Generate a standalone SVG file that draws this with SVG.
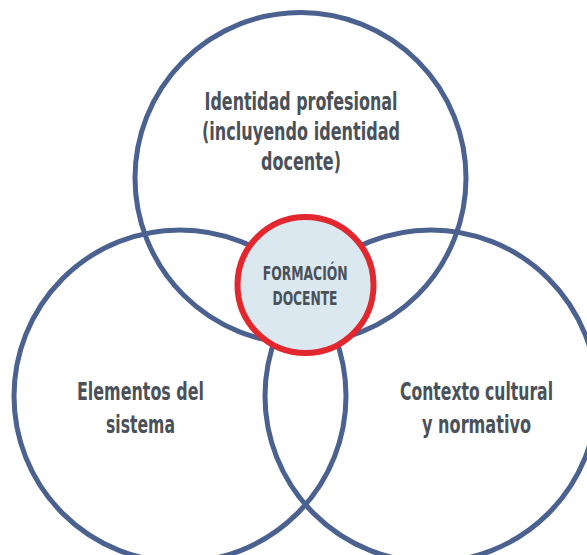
<svg xmlns="http://www.w3.org/2000/svg" width="587" height="555" viewBox="0 0 587 555">
  <style>
    .ring { fill: none; stroke: #4b6190; stroke-width: 5; }
    .core { fill: #dbe8f0; stroke: #e3272f; stroke-width: 6; }
    .label { font-family: "Liberation Sans Narrow", "DejaVu Sans Condensed", "Roboto", sans-serif; font-weight: bold; fill: #4a5159; text-anchor: middle; }
    .big { font-size: 25px; }
    .small { font-size: 19px; }
  </style>
  <rect width="587" height="555" fill="#ffffff"/>

  <!-- Top set: professional identity -->
  <g id="identidad">
    <circle class="ring" cx="300.5" cy="178" r="165.5"/>
    <text class="label big" x="301" y="110" textLength="193" lengthAdjust="spacingAndGlyphs">Identidad profesional</text>
    <text class="label big" x="301" y="140" textLength="198" lengthAdjust="spacingAndGlyphs">(incluyendo identidad</text>
    <text class="label big" x="301" y="170" textLength="80" lengthAdjust="spacingAndGlyphs">docente)</text>
  </g>

  <!-- Lower-left set: system elements -->
  <g id="elementos">
    <circle class="ring" cx="180" cy="396" r="166"/>
    <text class="label big" x="140.5" y="400" textLength="127" lengthAdjust="spacingAndGlyphs">Elementos del</text>
    <text class="label big" x="140.5" y="433" textLength="69" lengthAdjust="spacingAndGlyphs">sistema</text>
  </g>

  <!-- Lower-right set: cultural and regulatory context -->
  <g id="contexto">
    <circle class="ring" cx="431" cy="396" r="166"/>
    <text class="label big" x="476.5" y="400" textLength="153" lengthAdjust="spacingAndGlyphs">Contexto cultural</text>
    <text class="label big" x="476.5" y="433" textLength="109" lengthAdjust="spacingAndGlyphs">y normativo</text>
  </g>

  <!-- Central intersection: teacher training -->
  <g id="formacion">
    <circle class="core" cx="305.5" cy="285" r="68"/>
    <text class="label small" x="305.2" y="280" textLength="85" lengthAdjust="spacingAndGlyphs">FORMACIÓN</text>
    <text class="label small" x="305" y="305" textLength="65" lengthAdjust="spacingAndGlyphs">DOCENTE</text>
  </g>
</svg>
